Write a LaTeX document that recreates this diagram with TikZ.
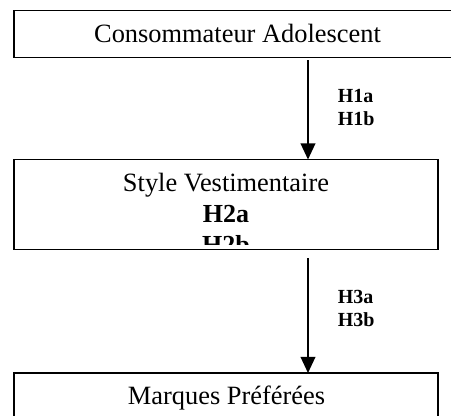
\documentclass[tikz,border=0pt]{standalone}
\usepackage{fontspec}
\setmainfont{Liberation Serif}
\usetikzlibrary{arrows.meta}
\begin{document}
\begin{tikzpicture}[x=0.75pt,y=-0.75pt,
  box/.style={draw,line width=1.2pt,inner sep=0pt,outer sep=0pt},
  lbl/.style={anchor=base,inner sep=0pt,font=\fontsize{19.8}{23}\selectfont},
  blbl/.style={lbl,font=\fontsize{19.5}{23}\selectfont\bfseries},
  hyp/.style={anchor=base west,inner sep=0pt,font=\fontsize{15}{18}\selectfont\bfseries},
  arr/.style={line width=1pt,-{Triangle[length=12pt,width=11pt]}}]
\useasboundingbox (0,0) rectangle (451,416);
\clip (0,0) rectangle (451,416);
% boxes
\node[box,minimum width=335.25pt,minimum height=35.25pt] (b1) at (237.5,34) {};
\node[box,minimum width=318pt,minimum height=67.5pt] (b2) at (226,204.5) {};
\node[box,minimum width=318pt,minimum height=50.25pt] (b3) at (226,406.5) {};
% texts
\node[lbl] (t1) at (237.5,42.7) {Consommateur Adolescent};
\node[lbl] (t2) at (226,191.7) {Style Vestimentaire};
\begin{scope}
  \clip (14,159.5) rectangle (438,245);
  \node[blbl] (h2a) at (226,223) {H2a};
  \node[blbl] (h2b) at (226,254) {H2b};
\end{scope}
\node[lbl] (t3) at (226.5,405) {Marques Préférées};
% arrows
\coordinate (ax) at (308,0);
\draw[arr] ([yshift=-1.9pt]b1.south -| ax) -- (b2.north -| ax);
\draw[arr] ([yshift=-6.4pt]b2.south -| ax) -- (b3.north -| ax);
% hypothesis labels
\node[hyp] (h1a) at (337.5,102.3) {H1a};
\node[hyp] (h1b) at (337.5,125.7) {H1b};
\node[hyp] (h3a) at (337.5,303.5) {H3a};
\node[hyp] (h3b) at (337.5,326.5) {H3b};
\end{tikzpicture}
\end{document}
